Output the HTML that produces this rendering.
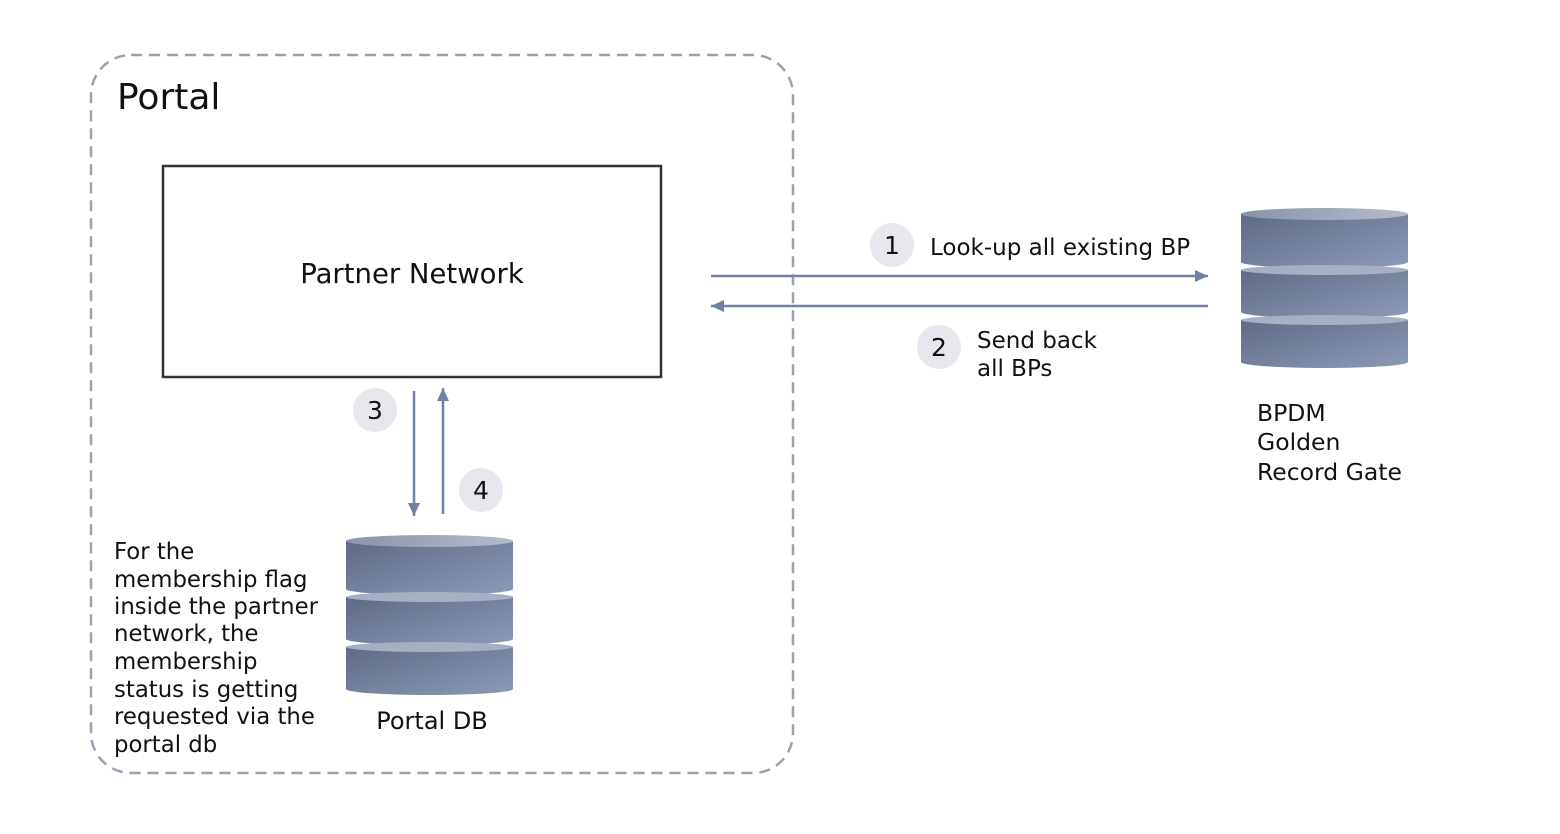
<!DOCTYPE html>
<html><head><meta charset="utf-8"><style>
html,body{margin:0;padding:0;background:#fff;}
svg{display:block}
text{font-family:"DejaVu Sans","Liberation Sans",sans-serif;fill:#111;}
</style></head><body>
<svg width="1560" height="834" viewBox="0 0 1560 834" xmlns="http://www.w3.org/2000/svg">
<defs>
<linearGradient id="g" x1="0" y1="0" x2="1" y2="1">
<stop offset="0" stop-color="#5f6b85"/><stop offset="1" stop-color="#8d9ab5"/></linearGradient>
<linearGradient id="t" x1="0" y1="0" x2="1" y2="0">
<stop offset="0" stop-color="#8a94a8"/><stop offset="1" stop-color="#b4bccb"/></linearGradient>
<marker id="a" markerWidth="14" markerHeight="14" refX="13" refY="6" orient="auto" markerUnits="userSpaceOnUse">
<path d="M0,0 L13,6 L0,12 z" fill="#7280a3"/></marker>
</defs>
<rect x="91" y="55" width="702" height="718" rx="40" fill="none" stroke="#9aa1b4" stroke-width="2.5" stroke-dasharray="11,7"/>
<text x="117" y="109" font-size="36">Portal</text>
<rect x="163" y="166" width="498" height="211" fill="#fff" stroke="#333" stroke-width="2.5"/>
<text x="412" y="283" font-size="27.5" text-anchor="middle">Partner Network</text>

<g id="cyl">
<path d="M1241,214 V262 A83.5,6 0 0 0 1408,262 V214 Z" fill="url(#g)"/>
<ellipse cx="1324.5" cy="214" rx="83.5" ry="6" fill="url(#t)"/>
<path d="M1241,270 V312 A83.5,6 0 0 0 1408,312 V270 Z" fill="url(#g)"/>
<ellipse cx="1324.5" cy="270" rx="83.5" ry="5" fill="#a7b0c2"/>
<path d="M1241,320 V362 A83.5,6 0 0 0 1408,362 V320 Z" fill="url(#g)"/>
<ellipse cx="1324.5" cy="320" rx="83.5" ry="5" fill="#a7b0c2"/>
</g>
<use href="#cyl" transform="translate(-895,327)"/>

<text font-size="23.5"><tspan x="1257" y="421">BPDM</tspan><tspan x="1257" y="450">Golden</tspan><tspan x="1257" y="480">Record Gate</tspan></text>
<text x="432" y="729" font-size="24" text-anchor="middle">Portal DB</text>
<text font-size="22.8"><tspan x="114" y="559">For the</tspan><tspan x="114" y="587">membership flag</tspan><tspan x="114" y="614">inside the partner</tspan><tspan x="114" y="641">network, the</tspan><tspan x="114" y="669">membership</tspan><tspan x="114" y="697">status is getting</tspan><tspan x="114" y="724">requested via the</tspan><tspan x="114" y="752">portal db</tspan></text>

<g stroke="#7280a3" stroke-width="2.5" fill="none">
<line x1="711" y1="276" x2="1208" y2="276" marker-end="url(#a)"/>
<line x1="1208" y1="306" x2="711" y2="306" marker-end="url(#a)"/>
<line x1="414" y1="391" x2="414" y2="516" marker-end="url(#a)"/>
<line x1="443" y1="514" x2="443" y2="388" marker-end="url(#a)"/>
</g>
<g fill="#e5e7ec">
<circle cx="892" cy="245" r="22"/><circle cx="939" cy="347" r="22"/>
<circle cx="375" cy="410" r="22"/><circle cx="481" cy="490" r="22"/>
</g>
<g font-size="25" text-anchor="middle">
<text x="892" y="254">1</text><text x="939" y="356">2</text>
<text x="375" y="419">3</text><text x="481" y="499">4</text>
</g>
<text x="930" y="255" font-size="23">Look-up all existing BP</text>
<text font-size="23"><tspan x="977" y="348">Send back</tspan><tspan x="977" y="376">all BPs</tspan></text>
</svg>
</body></html>
